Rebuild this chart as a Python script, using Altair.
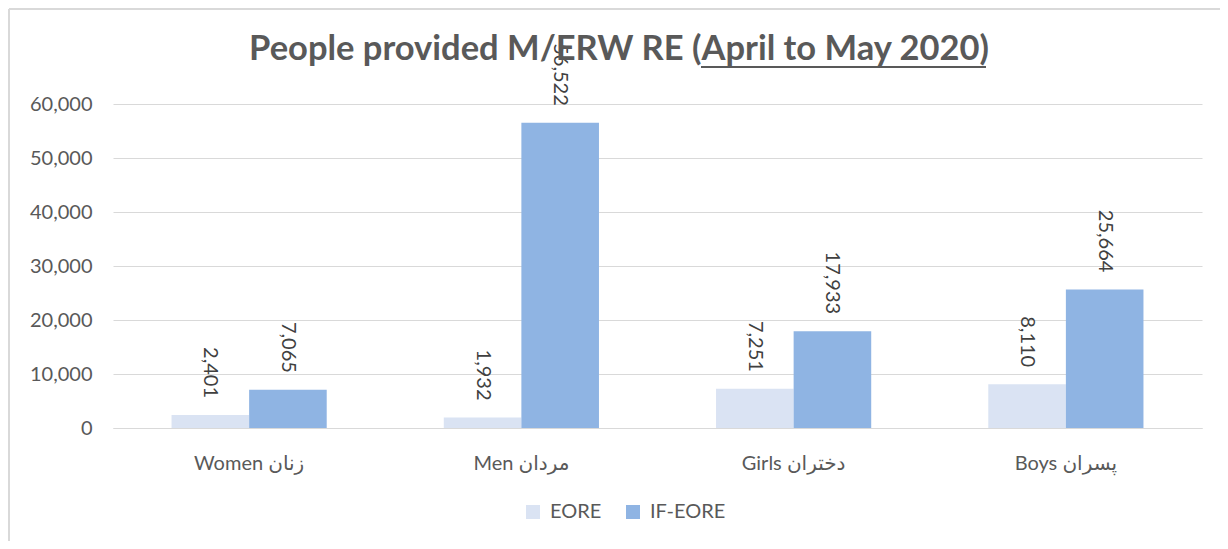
import altair as alt
import pandas as pd

categories = ["Women زنان", "Men مردان", "Girls دختران", "Boys  پسران"]
series = ["EORE", "IF-EORE"]
eore = [2401, 1932, 7251, 8110]
if_eore = [7065, 56522, 17933, 25664]
colors = ["#DAE3F3", "#8FB4E3"]
y_ticks = [0, 10000, 20000, 30000, 40000, 50000, 60000]
title_text = "People provided M/ERW RE (April to May 2020)"

rows = []
for i, c in enumerate(categories):
    rows.append({"cat": c, "series": series[0], "value": eore[i]})
    rows.append({"cat": c, "series": series[1], "value": if_eore[i]})
df = pd.DataFrame(rows)

FONT = "Lato, DejaVu Sans, sans-serif"
TXT = "#595959"

x_enc = alt.X("cat:N", sort=categories, title=None,
              scale=alt.Scale(paddingInner=0.43, paddingOuter=0.215),
              axis=alt.Axis(labelAngle=0, ticks=False, domain=True, domainColor="#d9d9d9",
                            labelFont=FONT, labelFontSize=20, labelColor=TXT,
                            labelPadding=25, grid=False))
y_enc = alt.Y("value:Q", title=None,
              scale=alt.Scale(domain=[0, 60000], nice=False),
              axis=alt.Axis(values=y_ticks,
                            labelExpr="format(datum.value, ',.0f')",
                            ticks=False, domain=False, grid=True,
                            gridColor="#d9d9d9", gridWidth=1,
                            labelFont=FONT, labelFontSize=20, labelColor=TXT,
                            labelPadding=21))
xo = alt.XOffset("series:N", sort=series, scale=alt.Scale(paddingInner=0, paddingOuter=0))

base = alt.Chart(df)

bars = base.mark_bar().encode(
    x=x_enc, y=y_enc, xOffset=xo,
    color=alt.Color("series:N", sort=series,
                    scale=alt.Scale(domain=series, range=colors),
                    legend=alt.Legend(orient="none", legendX=410, legendY=398,
                                      direction="horizontal", title=None,
                                      symbolType="square", symbolSize=196,
                                      symbolStrokeWidth=0, labelFont=FONT,
                                      labelFontSize=20, labelColor=TXT,
                                      columnPadding=21, labelOffset=7, padding=0)),
)

labels = base.mark_text(angle=90, align="right", baseline="middle", dx=-17,
                        font=FONT, fontSize=20, color="#404040").encode(
    x=x_enc, y=y_enc, xOffset=xo,
    text=alt.Text("value:Q", format=",.0f"),
)

tdf = pd.DataFrame({"t": [title_text]})
title = alt.Chart(tdf).mark_text(align="center", baseline="alphabetic", font=FONT,
                                 fontSize=34.5, fontWeight="bold", color=TXT).encode(
    x=alt.value(506), y=alt.value(-44), text="t:N")

underline = alt.Chart(tdf).mark_rule(color=TXT, strokeWidth=2).encode(
    x=alt.value(588), x2=alt.value(873), y=alt.value(-37))

border_top = alt.Chart(tdf).mark_rule(color="#d9d9d9", strokeWidth=2).encode(
    x=alt.value(-104), x2=alt.value(1300), y=alt.value(-95))
border_left = alt.Chart(tdf).mark_rule(color="#d9d9d9", strokeWidth=2).encode(
    x=alt.value(-104), y=alt.value(-95), y2=alt.value(600))

chart = alt.layer(border_top, border_left, bars, labels, title, underline).properties(
    width=1089, height=324,
    background="white",
    autosize=alt.AutoSizeParams(type="none"),
    padding={"left": 105, "top": 96, "right": 18, "bottom": 113},
).configure_view(stroke="transparent", strokeWidth=0)

chart.save("out.html", embed_options={"renderer": "svg", "actions": False})
